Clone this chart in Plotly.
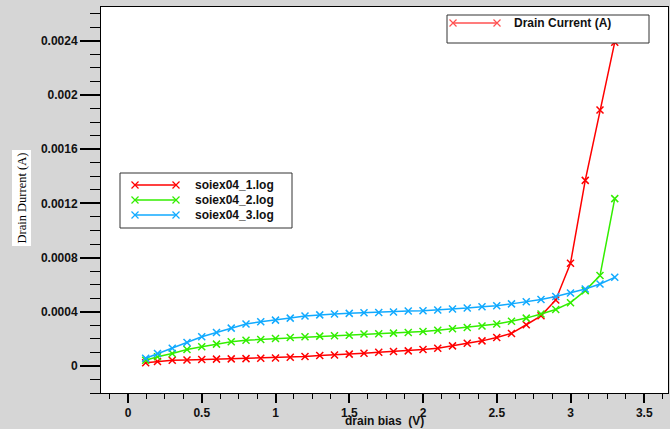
import plotly.graph_objects as go

# ---- data ----
drain_bias = [0.12, 0.2, 0.3, 0.4, 0.5, 0.6, 0.7, 0.8, 0.9, 1.0, 1.1, 1.2, 1.3, 1.4, 1.5, 1.6,
              1.7, 1.8, 1.9, 2.0, 2.1, 2.2, 2.3, 2.4, 2.5, 2.6, 2.7, 2.8, 2.9, 3.0, 3.1, 3.2, 3.3]

soiex04_1 = [0.000024, 0.000032, 0.000042, 0.000044, 0.000047, 0.000050, 0.000052, 0.000054,
             0.000057, 0.000059, 0.000064, 0.000070, 0.000077, 0.000081, 0.000087, 0.000094,
             0.000101, 0.000106, 0.000111, 0.000121, 0.000131, 0.000148, 0.000168, 0.000185,
             0.000210, 0.000240, 0.000304, 0.000370, 0.000487, 0.000758, 0.001370, 0.001890,
             0.002390]

soiex04_2 = [0.000042, 0.000067, 0.000091, 0.000121, 0.000141, 0.000161, 0.000178, 0.000190,
             0.000195, 0.000202, 0.000210, 0.000215, 0.000220, 0.000222, 0.000227, 0.000235,
             0.000237, 0.000242, 0.000247, 0.000254, 0.000264, 0.000274, 0.000284, 0.000294,
             0.000309, 0.000330, 0.000353, 0.000383, 0.000417, 0.000467, 0.000556, 0.000667,
             0.001235]

soiex04_3 = [0.000057, 0.000091, 0.000131, 0.000173, 0.000215, 0.000247, 0.000279, 0.000309,
             0.000326, 0.000338, 0.000353, 0.000368, 0.000377, 0.000383, 0.000388, 0.000393,
             0.000395, 0.000398, 0.000405, 0.000407, 0.000413, 0.000420, 0.000427, 0.000437,
             0.000444, 0.000458, 0.000474, 0.000491, 0.000513, 0.000538, 0.000568, 0.000605,
             0.000654]

series_names = ["soiex04_1.log", "soiex04_2.log", "soiex04_3.log"]
series_values = [soiex04_1, soiex04_2, soiex04_3]
series_colors = ["#ff0000", "#33ee00", "#11aaff"]

x_ticks = [0, 0.5, 1, 1.5, 2, 2.5, 3, 3.5]
x_tick_labels = ["0", "0.5", "1", "1.5", "2", "2.5", "3", "3.5"]
y_ticks = [0, 0.0004, 0.0008, 0.0012, 0.0016, 0.002, 0.0024]
y_tick_labels = ["0", "0.0004", "0.0008", "0.0012", "0.0016", "0.002", "0.0024"]

# ---- layout geometry (pixels) ----
W, H = 670, 429
ML, MR, MT, MB = 101, 2, 7, 36
PW, PH = W - ML - MR, H - MT - MB


def px(p):
    return (p - ML) / PW


def py(p):
    return (H - MB - p) / PH


TICK_FONT = dict(family="Liberation Sans, Arial", size=12, color="#111111", weight="bold")

fig = go.Figure()
for name, vals, col in zip(series_names, series_values, series_colors):
    fig.add_trace(go.Scatter(
        x=drain_bias, y=vals, mode="lines+markers", name=name,
        line=dict(color=col, width=1.5),
        marker=dict(symbol="x-thin-open", size=7, line=dict(color=col, width=1.5)),
        showlegend=False,
    ))

shapes = []
annotations = []


def legend_box(x0, y0, x1, y1):
    shapes.append(dict(type="rect", xref="paper", yref="paper", layer="above",
                       x0=px(x0), x1=px(x1), y0=py(y1), y1=py(y0),
                       fillcolor="white", line=dict(color="#333333", width=1)))


def legend_item(x0, x1, yc, color, label, tx):
    shapes.append(dict(type="line", xref="paper", yref="paper", layer="above",
                       x0=px(x0), x1=px(x1), y0=py(yc), y1=py(yc),
                       line=dict(color=color, width=1.5)))
    for xc in (x0, x1):
        s = 3.5
        path = (f"M {px(xc - s)} {py(yc - s)} L {px(xc + s)} {py(yc + s)} "
                f"M {px(xc - s)} {py(yc + s)} L {px(xc + s)} {py(yc - s)}")
        shapes.append(dict(type="path", xref="paper", yref="paper", layer="above",
                           path=path, line=dict(color=color, width=1.2)))
    annotations.append(dict(xref="paper", yref="paper", x=px(tx), y=py(yc),
                            xanchor="left", yanchor="middle", showarrow=False,
                            text=label, font=TICK_FONT))


# top-right legend
legend_box(447, 15, 649, 43)
legend_item(453, 497, 23, "#ff5050", "Drain Current (A)", 512)

# left legend
legend_box(120, 173, 292, 228)
for i, (name, col) in enumerate(zip(series_names, series_colors)):
    legend_item(135, 176, 185 + i * 15, col, name, 193)

# axis titles
annotations.append(dict(xref="paper", yref="paper", x=px(384), y=py(421),
                        xanchor="center", yanchor="middle", showarrow=False,
                        text="drain bias  (V)", font=TICK_FONT))
annotations.append(dict(xref="paper", yref="paper", x=px(21.5), y=py(198),
                        xanchor="center", yanchor="middle", showarrow=False,
                        textangle=-90, bgcolor="white", borderpad=2,
                        text="Drain Durrent (A)",
                        font=dict(family="Liberation Serif, Times New Roman", size=12.5,
                                  color="black")))

fig.update_layout(
    width=W, height=H,
    margin=dict(l=ML, r=MR, t=MT, b=MB, pad=0),
    paper_bgcolor="#d6d6d6", plot_bgcolor="white",
    shapes=shapes, annotations=annotations,
    showlegend=False,
)
fig.update_xaxes(
    range=[-0.183, 3.661], showgrid=False, zeroline=False,
    showline=True, linecolor="black", linewidth=1, mirror=True,
    tickmode="array", tickvals=x_ticks, ticktext=x_tick_labels,
    ticks="outside", ticklen=9, tickwidth=2, tickcolor="black",
    minor=dict(dtick=0.125, tick0=0, ticks="outside", ticklen=5, tickwidth=1,
               tickcolor="black", showgrid=False),
    tickfont=TICK_FONT,
)
fig.update_yaxes(
    range=[-0.0002, 0.00265], showgrid=False, zeroline=False,
    showline=True, linecolor="black", linewidth=1, mirror=True,
    tickmode="array", tickvals=y_ticks, ticktext=y_tick_labels,
    ticks="outside", ticklen=20, tickwidth=2, tickcolor="black",
    minor=dict(dtick=0.0001, tick0=0, ticks="outside", ticklen=10, tickwidth=1,
               tickcolor="black", showgrid=False),
    tickfont=TICK_FONT,
)

fig.write_html("out.html")
